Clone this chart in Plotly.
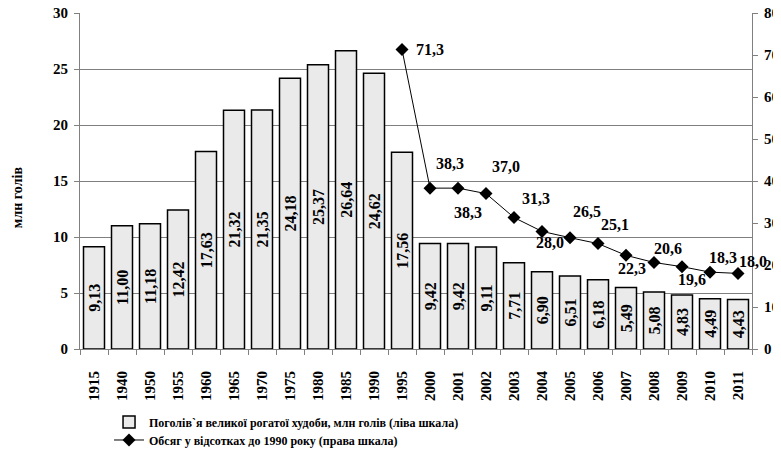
import plotly.graph_objects as go

years = ["1915", "1940", "1950", "1955", "1960", "1965", "1970", "1975", "1980",
         "1985", "1990", "1995", "2000", "2001", "2002", "2003", "2004", "2005",
         "2006", "2007", "2008", "2009", "2010", "2011"]
cattle = [9.13, 11.00, 11.18, 12.42, 17.63, 21.32, 21.35, 24.18, 25.37, 26.64,
          24.62, 17.56, 9.42, 9.42, 9.11, 7.71, 6.90, 6.51, 6.18, 5.49, 5.08,
          4.83, 4.49, 4.43]
pct_years = ["1995", "2000", "2001", "2002", "2003", "2004", "2005", "2006",
             "2007", "2008", "2009", "2010", "2011"]
pct = [71.3, 38.3, 38.3, 37.0, 31.3, 28.0, 26.5, 25.1, 22.3, 20.6, 19.6, 18.3, 18.0]

bar_name = "Поголів`я великої рогатої худоби, млн голів (ліва шкала)"
line_name = "Обсяг у відсотках до 1990 року (права шкала)"
y_title = "млн голів"

FONT = "Liberation Serif"
# label offsets (px) for the line value labels: (dx, dy) with dy positive = up
label_offsets = [(28, 0), (20, 25), (10, -24), (20, 27), (22, 19), (8, -11),
                 (17, 26), (17, 19), (6, -13), (14, 14), (10, -13), (13, 15), (15, 12)]


def fmt(v, d):
    return f"{v:.{d}f}".replace(".", ",")


def F(size):
    return dict(family=FONT, size=size, color="black", weight="bold")


fig = go.Figure()
fig.add_trace(go.Bar(
    x=years, y=cattle, name=bar_name, legend="legend",
    text=[fmt(v, 2) for v in cattle],
    textposition="inside", insidetextanchor="middle", textangle=-90,
    constraintext="none",
    textfont=F(16),
    marker=dict(color="white", line=dict(color="black", width=1.5),
                pattern=dict(shape=".", fgcolor="#a0a0a0", bgcolor="white",
                             size=2, solidity=0.5)),
    hoverinfo="skip",
))
fig.add_trace(go.Scatter(
    x=pct_years, y=pct, name=line_name, yaxis="y2", legend="legend2",
    mode="lines+markers",
    line=dict(color="black", width=1),
    marker=dict(symbol="diamond", size=10, color="black"),
    hoverinfo="skip",
))

for xv, yv, (dx, dy) in zip(pct_years, pct, label_offsets):
    fig.add_annotation(x=years.index(xv), y=yv, xref="x", yref="y2", text=fmt(yv, 1),
                       showarrow=False, xshift=dx, yshift=dy, font=F(16))

fig.add_annotation(x=0, y=0.452, xref="paper", yref="paper", xshift=-63,
                   xanchor="center", yanchor="middle",
                   text=y_title, textangle=-90, showarrow=False, font=F(14))

leg_common = dict(xanchor="left", yanchor="middle", orientation="v",
                  xref="paper", yref="container",
                  font=F(12), bgcolor="rgba(0,0,0,0)")
fig.update_layout(
    width=773, height=446,
    margin=dict(l=72, r=29, t=5, b=105),
    paper_bgcolor="white", plot_bgcolor="white",
    font=F(15),
    bargap=0.25, showlegend=True,
    legend=dict(x=0.0432, y=0.0717, **leg_common),
    legend2=dict(x=0.0432, y=0.0314, **leg_common),
    xaxis=dict(type="category", categoryorder="array", categoryarray=years,
               range=[-0.5, len(years) - 0.5],
               tickangle=-90, showline=True, linecolor="#808080",
               linewidth=1, ticks="outside", ticklen=5, tickcolor="#808080",
               tickson="boundaries", showgrid=False, ticklabelstandoff=15,
               tickfont=F(15), automargin=False),
    yaxis=dict(range=[0, 30], dtick=5, showline=True, linecolor="#808080",
               linewidth=1, ticks="outside", ticklen=5, tickcolor="#808080",
               showgrid=True, gridcolor="#808080", gridwidth=1, zeroline=False,
               tickfont=F(15), automargin=False, ticklabelstandoff=3,
               ticklabeloverflow="allow"),
    yaxis2=dict(range=[0, 80], dtick=10, overlaying="y", side="right",
                showline=True, linecolor="#808080", linewidth=1, ticks="outside",
                ticklen=5, tickcolor="#808080", showgrid=False, zeroline=False,
                tickfont=F(15), automargin=False, ticklabelstandoff=3,
                ticklabeloverflow="allow"),
)

fig.write_html("out.html")
